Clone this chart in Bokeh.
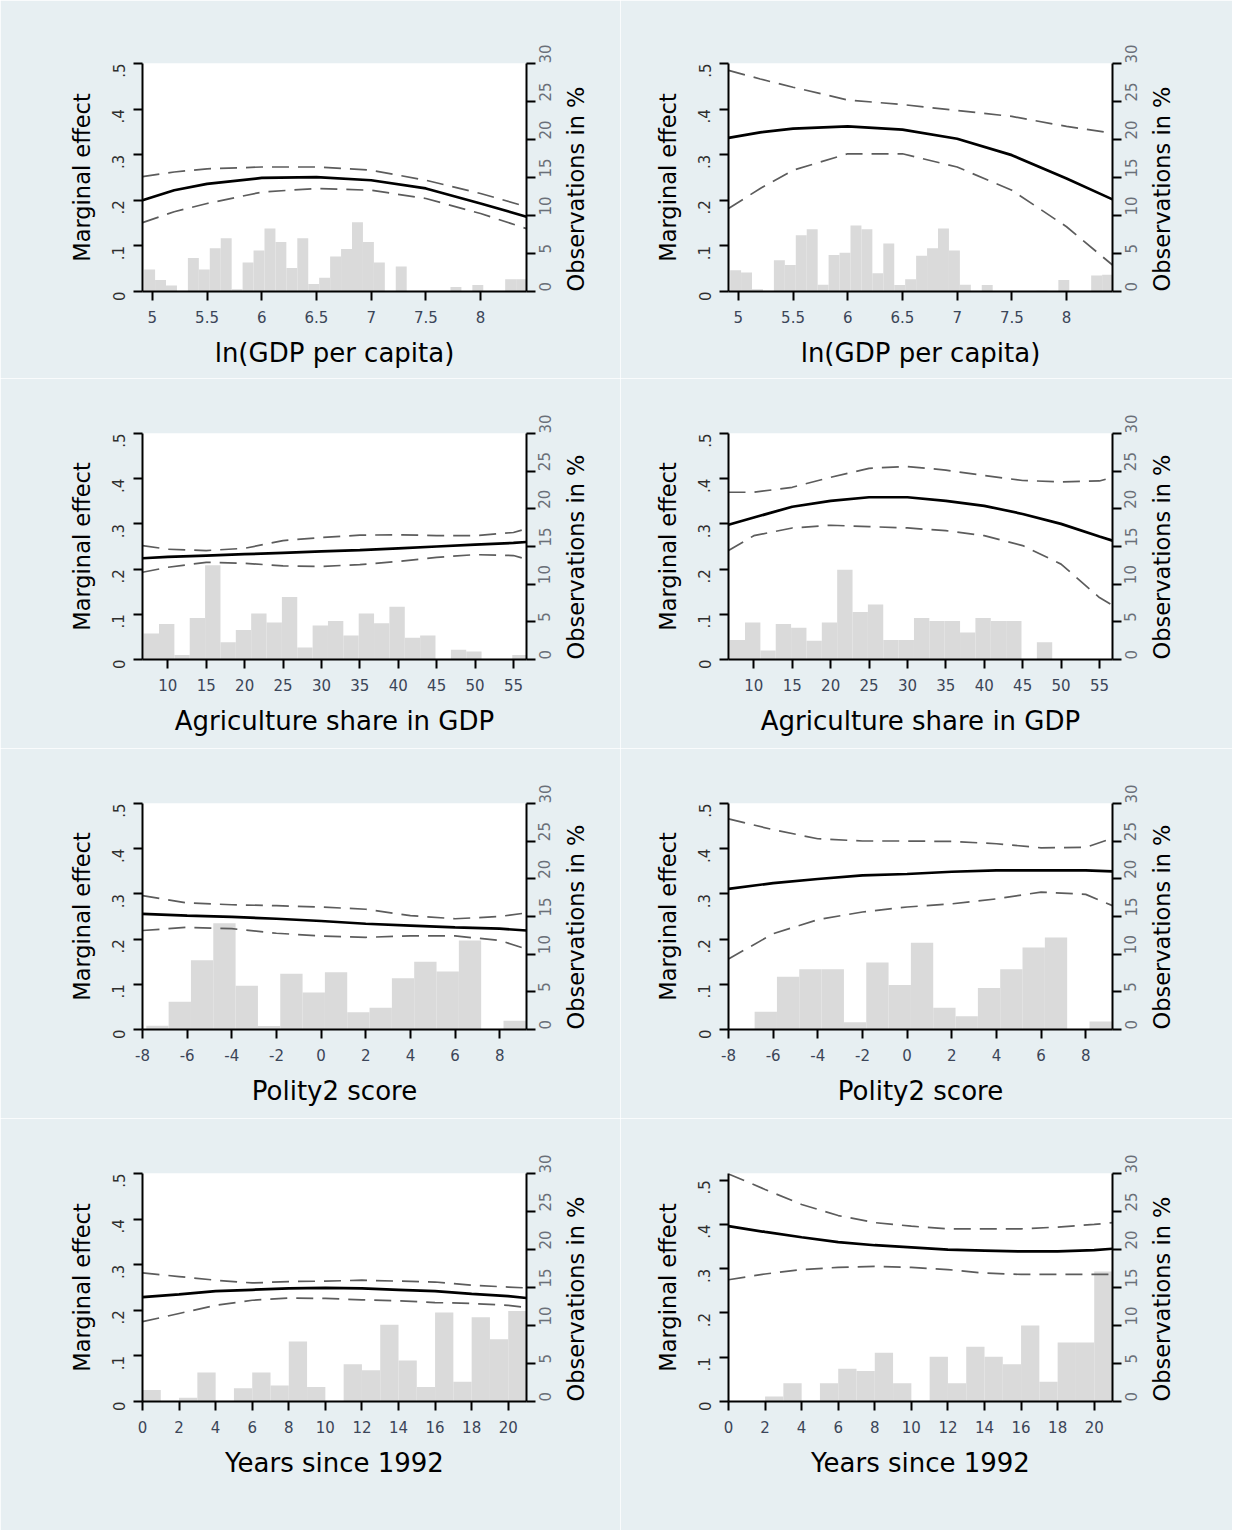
import math
from bokeh.plotting import figure
from bokeh.models import Range1d, LinearAxis, FixedTicker
from bokeh.layouts import column, row
from bokeh.embed import file_html
from bokeh.resources import INLINE

# ---------------- data ----------------
gdp_x = [4.91, 5.2, 5.5, 6.0, 6.5, 7.0, 7.5, 8.0, 8.42]
gdp1_me = [0.200, 0.222, 0.236, 0.249, 0.251, 0.244, 0.226, 0.193, 0.164]
gdp1_hi = [0.252, 0.262, 0.269, 0.273, 0.273, 0.266, 0.244, 0.215, 0.186]
gdp1_lo = [0.151, 0.175, 0.193, 0.218, 0.226, 0.222, 0.204, 0.171, 0.138]
gdp2_me = [0.337, 0.349, 0.357, 0.362, 0.355, 0.335, 0.299, 0.248, 0.202]
gdp2_hi = [0.485, 0.466, 0.448, 0.420, 0.410, 0.397, 0.384, 0.362, 0.347]
gdp2_lo = [0.182, 0.226, 0.266, 0.302, 0.302, 0.273, 0.222, 0.142, 0.058]
gdp_bin_start, gdp_bin_w = 4.925, 0.1
gdp1_hist = [2.9, 1.5, 0.8, 0, 4.4, 2.9, 5.7, 7.0, 0.3, 3.8, 5.4, 8.3, 6.5, 3.1, 7.0, 1.0, 1.8,
             4.6, 5.6, 9.1, 6.5, 3.8, 0, 3.3, 0, 0, 0, 0, 0.6, 0, 0.85, 0, 0, 1.6, 1.6]
gdp2_hist = [2.8, 2.5, 0.3, 0, 4.1, 3.5, 7.4, 8.2, 0.9, 4.8, 5.1, 8.7, 8.2, 2.4, 6.3, 0.85, 1.6,
             4.7, 5.7, 8.3, 5.4, 0.9, 0, 0.85, 0, 0, 0, 0, 0.1, 0, 1.5, 0, 0, 2.1, 2.2]
gdp_ticks = [5, 5.5, 6, 6.5, 7, 7.5, 8]
gdp_tick_labels = ["5", "5.5", "6", "6.5", "7", "7.5", "8"]
gdp_range = (4.91, 8.42)

agr_x = [6.7, 10, 15, 20, 25, 30, 35, 40, 45, 50, 55, 56.7]
agr1_me = [0.224, 0.227, 0.230, 0.233, 0.236, 0.239, 0.242, 0.246, 0.250, 0.254, 0.258, 0.260]
agr1_hi = [0.252, 0.244, 0.241, 0.246, 0.263, 0.270, 0.275, 0.276, 0.274, 0.274, 0.281, 0.289]
agr1_lo = [0.193, 0.204, 0.215, 0.213, 0.207, 0.206, 0.210, 0.217, 0.226, 0.232, 0.230, 0.222]
agr2_me = [0.298, 0.314, 0.338, 0.351, 0.359, 0.359, 0.351, 0.340, 0.322, 0.300, 0.272, 0.263]
agr2_hi = [0.370, 0.370, 0.381, 0.403, 0.423, 0.427, 0.419, 0.407, 0.396, 0.393, 0.395, 0.403]
agr2_lo = [0.241, 0.274, 0.291, 0.297, 0.294, 0.291, 0.285, 0.274, 0.252, 0.211, 0.137, 0.120]
agr_bin_start, agr_bin_w = 6.85, 2.0
agr1_hist = [3.45, 4.7, 0.6, 5.5, 12.5, 2.3, 3.9, 6.1, 4.9, 8.3, 1.6, 4.5, 5.1, 3.2, 6.1, 4.8,
             7.0, 2.9, 3.2, 0, 1.3, 1.05, 0, 0, 0.6]
agr2_hist = [2.6, 4.9, 1.2, 4.7, 4.2, 2.5, 4.9, 11.9, 6.3, 7.3, 2.6, 2.6, 5.5, 5.1, 5.1, 3.6,
             5.5, 5.1, 5.1, 0, 2.3, 0, 0, 0, 0]
agr_ticks = [10, 15, 20, 25, 30, 35, 40, 45, 50, 55]
agr_tick_labels = ["10", "15", "20", "25", "30", "35", "40", "45", "50", "55"]
agr_range = (6.7, 56.7)

pol_x = [-8, -6, -4, -2, 0, 2, 4, 6, 8, 9.2]
pol1_me = [0.256, 0.252, 0.249, 0.245, 0.240, 0.234, 0.230, 0.226, 0.223, 0.219]
pol1_hi = [0.296, 0.280, 0.276, 0.274, 0.271, 0.266, 0.252, 0.245, 0.250, 0.258]
pol1_lo = [0.219, 0.226, 0.223, 0.213, 0.207, 0.204, 0.207, 0.207, 0.197, 0.178]
pol2_me = [0.311, 0.324, 0.333, 0.341, 0.344, 0.349, 0.352, 0.352, 0.352, 0.350]
pol2_hi = [0.466, 0.442, 0.422, 0.417, 0.417, 0.416, 0.411, 0.402, 0.403, 0.423]
pol2_lo = [0.156, 0.212, 0.243, 0.260, 0.271, 0.278, 0.289, 0.304, 0.299, 0.274]
pol_bin_start, pol_bin_w = -7.83, 1.0
pol1_hist = [0.5, 3.7, 9.2, 14.1, 5.8, 0.45, 7.4, 4.9, 7.6, 2.3, 2.9, 6.8, 9.0, 7.7, 11.8, 0, 1.15]
pol2_hist = [0, 2.35, 7.0, 8.0, 8.0, 0.95, 8.9, 5.9, 11.5, 2.9, 1.75, 5.5, 8.0, 10.9, 12.2, 0, 1.05]
pol_ticks = [-8, -6, -4, -2, 0, 2, 4, 6, 8]
pol_tick_labels = ["-8", "-6", "-4", "-2", "0", "2", "4", "6", "8"]
pol_range = (-8, 9.2)

yr_x = [0, 2, 4, 6, 8, 10, 12, 14, 16, 18, 20, 21]
yr1_me = [0.229, 0.235, 0.242, 0.245, 0.248, 0.249, 0.248, 0.245, 0.242, 0.236, 0.231, 0.227]
yr1_hi = [0.282, 0.274, 0.266, 0.260, 0.263, 0.264, 0.266, 0.264, 0.262, 0.255, 0.251, 0.249]
yr1_lo = [0.175, 0.193, 0.211, 0.222, 0.227, 0.226, 0.223, 0.221, 0.217, 0.215, 0.211, 0.206]
yr2_me = [0.396, 0.383, 0.371, 0.360, 0.353, 0.348, 0.343, 0.341, 0.339, 0.339, 0.342, 0.345]
yr2_hi = [0.514, 0.479, 0.445, 0.420, 0.404, 0.396, 0.390, 0.390, 0.390, 0.394, 0.400, 0.404]
yr2_lo = [0.275, 0.288, 0.298, 0.303, 0.305, 0.303, 0.298, 0.290, 0.287, 0.287, 0.287, 0.287]
yr_bin_start, yr_bin_w = 0.0, 1.0
yr1_hist = [1.5, 0, 0.5, 3.8, 0, 1.75, 3.8, 2.1, 7.9, 1.9, 0, 4.9, 4.1, 10.1, 5.4, 1.9, 11.7,
            2.6, 11.1, 8.2, 11.9]
yr2_hist = [0, 0, 0.65, 2.4, 0, 2.4, 4.3, 4.0, 6.4, 2.4, 0, 5.9, 2.4, 7.2, 5.9, 4.9, 10.0,
            2.6, 7.75, 7.75, 17.1]
yr_ticks = [0, 2, 4, 6, 8, 10, 12, 14, 16, 18, 20]
yr_tick_labels = ["0", "2", "4", "6", "8", "10", "12", "14", "16", "18", "20"]
yr_range = (0, 21)

me_ticks = [0, 0.1, 0.2, 0.3, 0.4, 0.5]
me_tick_labels = ["0", ".1", ".2", ".3", ".4", ".5"]
pct_ticks = [0, 5, 10, 15, 20, 25, 30]
pct_tick_labels = ["0", "5", "10", "15", "20", "25", "30"]
left_title = "Marginal effect"
right_title = "Observations in %"

# ---------------- styling ----------------
BG = "#e7eff2"
FONT = "DejaVu Sans"
BAR = "#dadada"


def style_axis(ax, ticks, labels, side):
    ax.ticker = FixedTicker(ticks=ticks)
    ax.major_label_overrides = {t: l for t, l in zip(ticks, labels)}
    ax.axis_line_color = "black"
    ax.axis_line_width = 2
    ax.major_tick_line_color = "black"
    ax.major_tick_line_width = 2
    ax.major_tick_out = 9
    ax.major_tick_in = 0
    ax.minor_tick_out = 0
    ax.minor_tick_in = 0
    ax.major_label_text_font = FONT
    ax.major_label_text_font_size = "15px"
    ax.axis_label_text_font = FONT
    ax.axis_label_text_font_style = "normal"
    ax.axis_label_text_color = "black"
    if side == "below":
        ax.major_label_text_color = "#3b4558"
        ax.major_label_standoff = 10
        ax.axis_label_text_font_size = "26px"
        ax.axis_label_standoff = 12
    elif side == "left":
        ax.major_label_text_color = "#2e2e2e"
        ax.major_label_orientation = math.pi / 2
        ax.major_label_standoff = 15
        ax.axis_label_text_font_size = "22.5px"
        ax.axis_label_standoff = 9
    else:
        ax.major_label_text_color = "#6a6f78"
        ax.major_label_orientation = math.pi / 2
        ax.major_label_standoff = 9
        ax.axis_label_text_font_size = "22.5px"
        ax.axis_label_standoff = 16
        # read bottom-to-top like the reference; anchored at the lower end
        ax.axis_label_orientation = math.pi / 2
        ax.axis_label_align = "start"


def make_panel(col, rowi, xr, ticks, tick_labels, xtitle, xs, me, hi, lo,
               bin_start, bin_w, hist, ytop=0.5):
    if col == 0:
        width, bl, br = 620, 142, 94
    else:
        width, bl, br = 612, 108, 120
    if rowi == 0:
        height, bt, bb = 378, 63, 87
    elif rowi < 3:
        height, bt, bb = 370, 55, 89
    else:
        height, bt, bb = 412, 55, 129
    p = figure(width=width, height=height, x_range=Range1d(*xr), y_range=Range1d(0, ytop),
               output_backend="svg", toolbar_location=None,
               min_border_left=bl, min_border_right=br, min_border_top=bt, min_border_bottom=bb,
               background_fill_color="white", border_fill_color=BG, outline_line_color=None)
    p.extra_y_ranges = {"pct": Range1d(0, 30)}
    p.grid.visible = False

    lefts = [bin_start + i * bin_w for i in range(len(hist))]
    rights = [l + bin_w for l in lefts]
    p.quad(left=lefts, right=rights, bottom=0, top=hist, y_range_name="pct",
           fill_color=BAR, line_color=None)

    p.line(xs, hi, line_color="#5c5c5c", line_width=1.7, line_dash="17 9")
    p.line(xs, lo, line_color="#5c5c5c", line_width=1.7, line_dash="17 9")
    p.line(xs, me, line_color="black", line_width=2.7)

    style_axis(p.xaxis[0], ticks, tick_labels, "below")
    p.xaxis[0].axis_label = xtitle
    style_axis(p.yaxis[0], me_ticks, me_tick_labels, "left")
    p.yaxis[0].axis_label = left_title

    rax = LinearAxis(y_range_name="pct", axis_label=right_title)
    style_axis(rax, pct_ticks, pct_tick_labels, "right")
    p.add_layout(rax, "right")
    return p


panels = [
    [make_panel(0, 0, gdp_range, gdp_ticks, gdp_tick_labels, "ln(GDP per capita)", gdp_x,
                gdp1_me, gdp1_hi, gdp1_lo, gdp_bin_start, gdp_bin_w, gdp1_hist),
     make_panel(1, 0, gdp_range, gdp_ticks, gdp_tick_labels, "ln(GDP per capita)", gdp_x,
                gdp2_me, gdp2_hi, gdp2_lo, gdp_bin_start, gdp_bin_w, gdp2_hist)],
    [make_panel(0, 1, agr_range, agr_ticks, agr_tick_labels, "Agriculture share in GDP", agr_x,
                agr1_me, agr1_hi, agr1_lo, agr_bin_start, agr_bin_w, agr1_hist),
     make_panel(1, 1, agr_range, agr_ticks, agr_tick_labels, "Agriculture share in GDP", agr_x,
                agr2_me, agr2_hi, agr2_lo, agr_bin_start, agr_bin_w, agr2_hist)],
    [make_panel(0, 2, pol_range, pol_ticks, pol_tick_labels, "Polity2 score", pol_x,
                pol1_me, pol1_hi, pol1_lo, pol_bin_start, pol_bin_w, pol1_hist),
     make_panel(1, 2, pol_range, pol_ticks, pol_tick_labels, "Polity2 score", pol_x,
                pol2_me, pol2_hi, pol2_lo, pol_bin_start, pol_bin_w, pol2_hist)],
    [make_panel(0, 3, yr_range, yr_ticks, yr_tick_labels, "Years since 1992", yr_x,
                yr1_me, yr1_hi, yr1_lo, yr_bin_start, yr_bin_w, yr1_hist),
     make_panel(1, 3, yr_range, yr_ticks, yr_tick_labels, "Years since 1992", yr_x,
                yr2_me, yr2_hi, yr2_lo, yr_bin_start, yr_bin_w, yr2_hist, ytop=0.515)],
]

layout = column(*[row(*r, spacing=0) for r in panels], spacing=0)

open("out.html", "w").write(file_html(layout, INLINE))
